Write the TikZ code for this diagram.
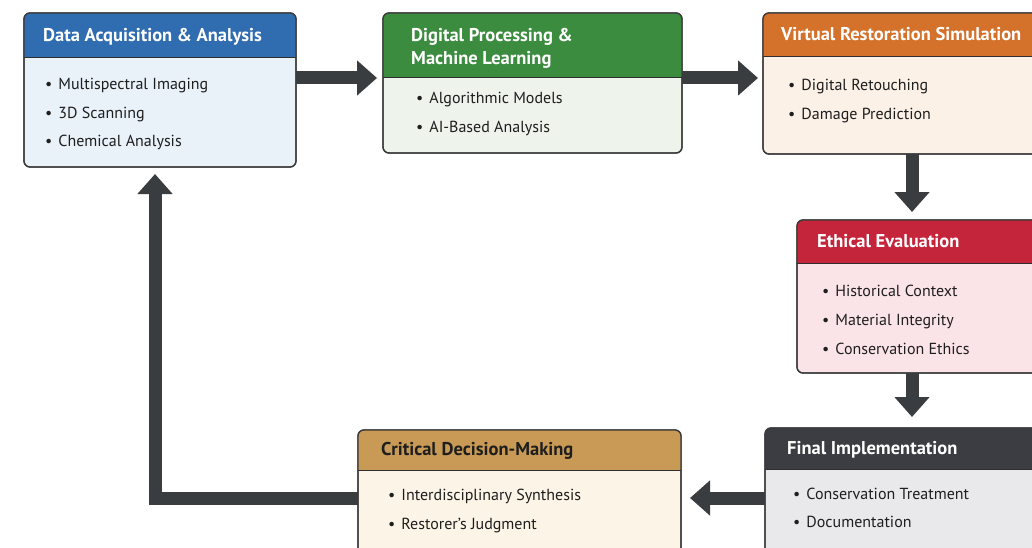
\documentclass[tikz,border=0pt]{standalone}
\usepackage{fontspec}
\setmainfont{PT Sans}
\usetikzlibrary{arrows.meta,calc}
\definecolor{hblue}{HTML}{2F6CB0}\definecolor{bblue}{HTML}{E9F1F9}
\definecolor{hgreen}{HTML}{3C8C3F}\definecolor{bgreen}{HTML}{EEF3EC}
\definecolor{horange}{HTML}{D4712A}\definecolor{borange}{HTML}{FCF1E6}
\definecolor{hred}{HTML}{C4253A}\definecolor{bred}{HTML}{FBE4E7}
\definecolor{hdark}{HTML}{3B3D42}\definecolor{bdark}{HTML}{E9E9EB}
\definecolor{htan}{HTML}{C99A55}\definecolor{btan}{HTML}{FCF4E6}
\definecolor{edge}{HTML}{3A3A3A}
\definecolor{arr}{HTML}{3A3D40}
\definecolor{txt}{HTML}{1E1E1E}
\tikzset{
  boxshape/.style={draw=edge, line width=1.3pt, rounded corners=6pt, inner sep=0pt, outer sep=0pt, anchor=north west},
  title/.style={anchor=west, inner sep=0pt, text height=12pt, text depth=3pt, font=\bfseries\fontsize{18.5}{21}\selectfont, text=white, align=left},
  item/.style={anchor=west, inner sep=0pt, text height=11pt, text depth=3pt, font=\fontsize{16}{19}\selectfont, text=txt},
  bigarrow/.style={draw=arr, line width=13pt, line join=miter, -{Triangle[length=20pt,width=34pt]}},
}
% #1 name, #2 x, #3 y, #4 w, #5 h, #6 header height, #7 header colour, #8 body colour
\newcommand\flowbox[8]{%
  \node[boxshape, fill=#8, minimum width=#4pt, minimum height=#5pt] (#1) at (#2,#3) {};
  \begin{scope}
    \clip[rounded corners=6pt] (#1.north west) rectangle (#1.south east);
    \fill[#7] (#1.north west) rectangle ([yshift=-#6pt]#1.north east);
    \draw[edge!80!black, line width=1pt] ([yshift=-#6pt]#1.north west) -- ([yshift=-#6pt]#1.north east);
  \end{scope}
  \draw[edge, line width=1.3pt, rounded corners=6pt] (#1.north west) rectangle (#1.south east);
}
\begin{document}
\begin{tikzpicture}[x=1pt,y=-1pt]
\useasboundingbox (0,0) rectangle (1032,548);
\fill[white] (0,0) rectangle (1032,548);
\begin{scope}
\clip (0,0) rectangle (1032,548);
\flowbox{b1}{24}{13}{272}{154}{45}{hblue}{bblue}
\flowbox{b2}{383}{13}{299}{140}{65}{hgreen}{bgreen}
\flowbox{b3}{763}{13}{290}{141}{44}{horange}{borange}
\flowbox{b4}{797}{220}{260}{153}{43}{hred}{bred}
\flowbox{b5}{765}{428}{290}{140}{41}{hdark}{bdark}
\flowbox{b6}{358}{430}{323}{140}{40}{htan}{btan}

% texts
\node[title] (t1) at (43,37) {Data Acquisition \& Analysis};
\node[item] (i11) at (45,86) {•\hspace{6pt}Multispectral Imaging};
\node[item] (i12) at (45,115) {•\hspace{6pt}3D Scanning};
\node[item] (i13) at (45,143) {•\hspace{6pt}Chemical Analysis};

\node[title] (t2a) at (411,37) {Digital Processing \&};
\node[title] (t2b) at (411,60) {Machine Learning};
\node[item] (i21) at (416,100) {•\hspace{6pt}Algorithmic Models};
\node[item] (i22) at (416,129) {•\hspace{6pt}AI-Based Analysis};

\node[title] (t3) at (781,36) {Virtual Restoration Simulation};
\node[item] (i31) at (788,87) {•\hspace{6pt}Digital Retouching};
\node[item] (i32) at (788,116) {•\hspace{6pt}Damage Prediction};

\node[title] (t4) at (817,243) {Ethical Evaluation};
\node[item] (i41) at (822,292) {•\hspace{6pt}Historical Context};
\node[item] (i42) at (822,321) {•\hspace{6pt}Material Integrity};
\node[item] (i43) at (822,350) {•\hspace{6pt}Conservation Ethics};

\node[title] (t5) at (787,450) {Final Implementation};
\node[item] (i51) at (793,495) {•\hspace{6pt}Conservation Treatment};
\node[item] (i52) at (793,523) {•\hspace{6pt}Documentation};

\node[title, text=txt] (t6) at (381,451) {Critical Decision-Making};
\node[item] (i61) at (388,496) {•\hspace{6pt}Interdisciplinary Synthesis};
\node[item] (i62) at (388,525) {•\hspace{6pt}Restorer’s Judgment};

% arrows
\draw[bigarrow] ($(b1.north east)+(0,65)$) -- ($(b2.north west)+(-6,65)$);
\draw[bigarrow] ($(b2.north east)+(0,65)$) -- ($(b3.north west)+(-5,65)$);
\draw[bigarrow] ($(b3.south west)+(149,0)$) -- ($(b4.north west)+(115,-8)$);
\draw[bigarrow] ($(b4.south west)+(115,0)$) -- ($(b5.north west)+(147,-11)$);
\draw[bigarrow] ($(b5.north west)+(0,70)$) -- ($(b6.north east)+(9,68)$);
\draw[bigarrow] ($(b6.north west)+(0,68)$) -| ($(b1.south west)+(131,7)$);
\end{scope}
\end{tikzpicture}
\end{document}
